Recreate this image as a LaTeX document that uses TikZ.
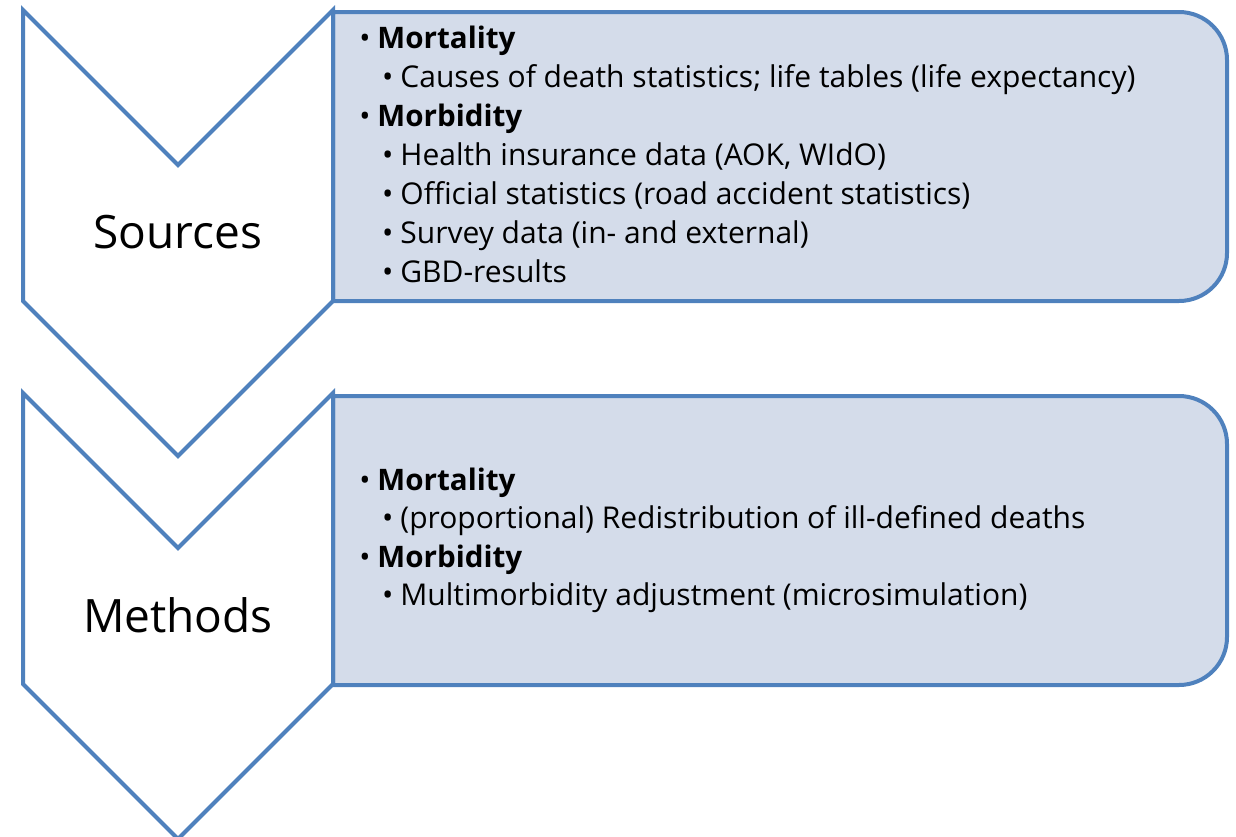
\documentclass[tikz,border=0pt]{standalone}
\usepackage{fontspec}
\setmainfont{Open Sans}
\definecolor{chevblue}{HTML}{4F81BD}
\definecolor{boxfill}{HTML}{D4DCEA}
\tikzset{
  chevron/.style={draw=chevblue, line width=2pt, fill=white, line join=miter},
  listbox/.style={draw=chevblue, line width=2pt, fill=boxfill},
  stage/.style={font=\fontsize{23}{28}\selectfont},
  headitem/.style={anchor=base west, inner sep=0pt, font=\fontsize{14.8}{18}\selectfont},
  subitem/.style={anchor=base west, inner sep=0pt, font=\fontsize{15}{18}\selectfont},
}
\newcommand{\bul}{\llap{\textbullet\hspace{3.5pt}}}
\begin{document}
\begin{tikzpicture}[x=0.5pt,y=-0.5pt]
    \useasboundingbox (0,0) rectangle (1236,836);

    % Boxes with the lists (right corners rounded)
    \draw[listbox] (333,12) -- (1179,12) arc[start angle=90,end angle=0,radius=24pt]
        -- (1227,253) arc[start angle=0,end angle=-90,radius=24pt] -- (333,301) -- cycle;
    \draw[listbox] (333,396) -- (1179,396) arc[start angle=90,end angle=0,radius=24pt]
        -- (1227,637) arc[start angle=0,end angle=-90,radius=24pt] -- (333,685) -- cycle;

    % Chevrons
    \draw[chevron] (23,10) -- (178,165) -- (333,10) -- (333,301) -- (178,456) -- (23,301) -- cycle;
    \draw[chevron] (23,393) -- (178,548) -- (333,393) -- (333,684) -- (178,839) -- (23,684) -- cycle;

    % Stage labels
    \node[stage] (sources) at (178,232) {Sources};
    \node[stage] (methods) at (178,615) {Methods};

    % Sources list
    \node[headitem] (srcmort) at (377,48) {\bul\textbf{Mortality}};
    \node[subitem] (srccause) at (400,87) {\bul Causes of death statistics; life tables (life expectancy)};
    \node[headitem] (srcmorb) at (377,126) {\bul\textbf{Morbidity}};
    \node[subitem] (srcins) at (400,165) {\bul Health insurance data (AOK, WIdO)};
    \node[subitem] (srcoff) at (400,204) {\bul Official statistics (road accident statistics)};
    \node[subitem] (srcsurv) at (400,243) {\bul Survey data (in- and external)};
    \node[subitem] (srcgbd) at (400,282) {\bul GBD-results};

    % Methods list
    \node[headitem] (metmort) at (377,490) {\bul\textbf{Mortality}};
    \node[subitem] (metredis) at (400,528) {\bul (proportional) Redistribution of ill-defined deaths};
    \node[headitem] (metmorb) at (377,567) {\bul\textbf{Morbidity}};
    \node[subitem] (metmulti) at (400,605) {\bul Multimorbidity adjustment (microsimulation)};
\end{tikzpicture}
\end{document}
